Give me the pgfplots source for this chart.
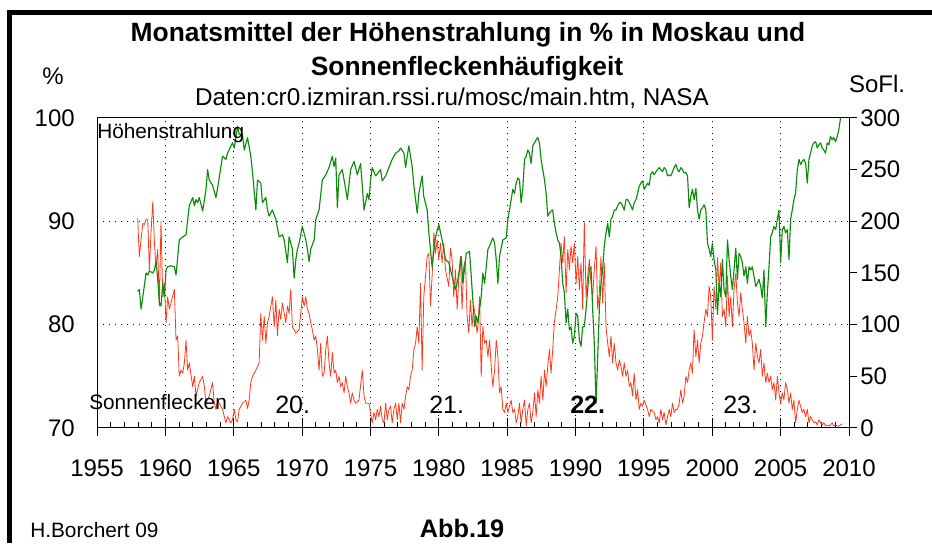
\documentclass[border=0pt]{standalone}
\usepackage{pgfplots}
\pgfplotsset{compat=1.18}
\usepackage{pgfplotstable}
\usepackage{fontspec}
\setmainfont{Liberation Sans}
\definecolor{cgreen}{RGB}{10,140,10}
\definecolor{cred}{RGB}{255,55,25}
\def\px{0.75pt}

\pgfplotstableread{
year pct
1957.98 83.2
1958.10 83.4
1958.22 81.5
1958.35 82.7
1958.59 85.0
1958.71 84.8
1958.83 85.2
1959.08 85.0
1959.20 85.3
1959.32 86.1
1959.44 84.4
1959.56 82.1
1959.68 81.8
1959.81 84.0
1959.93 82.7
1960.05 85.3
1960.17 85.6
1960.41 85.7
1960.66 85.6
1960.78 84.8
1961.02 88.2
1961.27 88.5
1961.51 88.7
1961.75 91.5
1962.00 92.3
1962.12 91.5
1962.24 92.1
1962.36 91.8
1962.48 92.3
1962.73 91.0
1962.97 93.1
1963.09 95.0
1963.21 94.0
1963.45 93.5
1963.70 92.3
1963.82 93.2
1964.18 96.3
1964.43 96.0
1964.55 96.6
1964.91 97.6
1965.04 97.1
1965.28 99.2
1965.40 98.4
1965.64 98.4
1965.77 96.9
1966.01 98.1
1966.25 96.3
1966.37 94.8
1966.62 91.1
1966.74 94.0
1966.98 93.7
1967.10 91.8
1967.35 92.3
1967.47 91.1
1967.59 90.5
1967.83 91.1
1968.08 90.2
1968.32 88.5
1968.56 88.7
1968.69 88.2
1968.93 86.0
1969.05 88.5
1969.29 87.3
1969.42 84.5
1969.54 86.3
1969.66 87.3
1969.78 87.9
1969.90 88.7
1970.02 89.5
1970.27 88.2
1970.39 87.3
1970.51 86.1
1970.63 87.3
1970.88 88.2
1971.00 90.2
1971.24 91.1
1971.48 94.0
1971.73 94.5
1971.97 95.2
1972.21 96.3
1972.34 95.3
1972.46 96.1
1972.58 91.3
1972.70 94.5
1972.94 95.0
1973.19 93.1
1973.31 92.1
1973.55 95.0
1973.80 95.8
1974.04 94.5
1974.28 95.6
1974.53 91.1
1974.77 92.7
1974.89 92.1
1975.01 94.0
1975.13 95.2
1975.38 94.4
1975.74 95.0
1975.86 93.9
1976.11 94.4
1976.35 95.2
1976.59 96.0
1976.84 96.6
1977.08 96.8
1977.20 97.1
1977.45 96.6
1977.57 95.2
1977.69 96.3
1977.81 97.3
1978.05 95.3
1978.18 93.4
1978.42 90.8
1978.54 92.7
1978.78 94.4
1978.90 92.4
1979.15 91.1
1979.27 88.9
1979.51 85.6
1979.76 88.5
1980.00 89.7
1980.24 88.2
1980.49 86.3
1980.73 86.0
1980.97 84.7
1981.22 83.4
1981.40 84.4
1981.64 86.6
1981.76 84.0
1982.01 86.9
1982.25 87.1
1982.37 84.7
1982.62 79.8
1982.74 80.8
1982.86 80.2
1982.98 81.5
1983.10 82.7
1983.22 85.0
1983.35 84.0
1983.47 85.6
1983.59 87.3
1983.71 87.6
1983.95 88.4
1984.08 87.9
1984.20 86.3
1984.32 84.0
1984.44 86.6
1984.68 88.2
1984.93 88.4
1985.05 90.2
1985.17 91.1
1985.29 92.1
1985.41 93.1
1985.54 92.7
1985.66 93.7
1985.78 94.2
1985.90 94.0
1986.02 91.8
1986.14 93.1
1986.27 96.0
1986.39 96.3
1986.51 96.9
1986.63 96.6
1986.75 95.6
1986.87 97.3
1987.00 97.6
1987.12 97.9
1987.24 98.1
1987.36 97.6
1987.48 96.0
1987.73 94.0
1987.85 92.7
1987.97 90.5
1988.09 90.8
1988.21 91.0
1988.33 91.1
1988.45 89.8
1988.58 88.9
1988.70 88.2
1988.82 87.9
1988.94 86.6
1989.06 84.0
1989.18 83.1
1989.31 80.2
1989.43 81.5
1989.55 79.5
1989.67 79.8
1989.79 78.2
1989.91 78.9
1990.04 81.1
1990.16 80.8
1990.28 78.5
1990.40 77.9
1990.52 79.8
1990.64 79.8
1990.77 81.5
1990.89 83.4
1991.01 85.3
1991.13 85.6
1991.25 81.5
1991.37 78.2
1991.50 72.4
1991.62 76.9
1991.74 81.5
1991.86 84.0
1991.98 85.3
1992.10 87.6
1992.23 88.9
1992.35 89.8
1992.47 88.5
1992.59 90.2
1992.71 90.5
1992.83 91.1
1992.96 91.1
1993.08 91.5
1993.20 91.8
1993.32 91.8
1993.44 91.5
1993.56 91.1
1993.69 92.1
1993.81 92.1
1993.93 91.8
1994.05 91.5
1994.17 91.1
1994.29 91.8
1994.42 92.1
1994.54 92.7
1994.66 93.4
1994.78 93.7
1994.90 93.9
1995.02 93.1
1995.15 93.4
1995.27 93.7
1995.39 93.5
1995.51 94.6
1995.63 94.8
1995.75 94.5
1995.88 94.8
1996.00 95.0
1996.12 95.2
1996.24 95.0
1996.36 94.8
1996.48 95.2
1996.61 95.0
1996.73 94.4
1996.85 94.5
1996.97 94.4
1997.09 94.8
1997.21 95.2
1997.34 95.5
1997.46 95.0
1997.58 94.8
1997.70 95.2
1997.82 95.0
1997.94 94.7
1998.07 94.7
1998.19 94.4
1998.31 91.3
1998.43 92.4
1998.55 93.1
1998.67 92.1
1998.80 93.2
1998.92 91.1
1999.04 90.2
1999.16 91.1
1999.28 91.3
1999.40 91.6
1999.53 91.1
1999.65 87.9
1999.77 87.3
1999.89 86.6
2000.01 87.9
2000.13 86.3
2000.26 85.3
2000.38 81.0
2000.50 84.0
2000.62 82.7
2000.74 86.3
2000.86 83.4
2000.99 82.7
2001.11 88.2
2001.23 86.3
2001.35 84.7
2001.47 83.4
2001.59 85.3
2001.72 87.4
2001.84 84.4
2001.96 86.9
2002.08 86.6
2002.20 86.0
2002.32 84.7
2002.45 85.6
2002.57 84.0
2002.69 85.6
2002.81 85.3
2002.93 85.6
2003.05 84.7
2003.18 83.7
2003.30 84.0
2003.42 84.4
2003.54 83.7
2003.66 82.6
2003.78 85.3
2003.91 79.8
2004.03 83.1
2004.15 85.6
2004.27 88.5
2004.39 88.9
2004.51 89.5
2004.64 89.2
2004.76 90.2
2004.88 91.1
2005.00 86.0
2005.12 89.2
2005.24 89.5
2005.36 88.9
2005.49 89.2
2005.61 86.3
2005.73 90.2
2005.85 91.1
2005.97 92.1
2006.09 92.7
2006.22 95.0
2006.34 96.0
2006.46 95.5
2006.58 95.8
2006.70 96.0
2006.83 95.6
2006.95 93.7
2007.07 96.0
2007.19 96.6
2007.31 97.3
2007.43 97.6
2007.56 97.7
2007.68 97.1
2007.80 97.4
2007.92 97.6
2008.04 97.1
2008.16 96.9
2008.28 96.6
2008.41 97.6
2008.53 97.4
2008.65 98.2
2008.77 97.9
2008.89 98.1
2009.01 97.7
2009.14 98.2
2009.26 98.9
2009.38 100.0
}\greendata

\pgfplotstableread{
year sofl
1957.98 203
1958.05 179
1958.10 166
1958.22 182
1958.35 198
1958.47 197
1958.59 202
1958.71 202
1958.83 153
1958.95 189
1959.08 219
1959.20 179
1959.32 156
1959.44 173
1959.56 118
1959.68 200
1959.81 127
1959.93 140
1960.05 102
1960.17 127
1960.29 115
1960.41 121
1960.66 134
1960.78 85
1960.90 89
1961.02 50
1961.14 56
1961.27 53
1961.39 63
1961.51 85
1961.63 56
1961.75 63
1962.00 40
1962.12 50
1962.24 31
1962.48 44
1962.73 50
1962.85 40
1962.97 24
1963.21 31
1963.45 44
1963.58 24
1963.70 18
1963.82 27
1963.94 24
1964.18 18
1964.43 5
1964.55 11
1964.79 5
1964.91 8
1965.04 18
1965.16 8
1965.28 6
1965.40 18
1965.64 24
1965.89 27
1966.01 19
1966.13 27
1966.25 44
1966.37 50
1966.62 56
1966.86 63
1966.98 111
1967.10 85
1967.23 108
1967.35 82
1967.47 102
1967.59 108
1967.83 127
1967.96 98
1968.08 124
1968.20 89
1968.32 115
1968.44 105
1968.56 121
1968.81 102
1968.93 118
1969.05 111
1969.17 134
1969.29 98
1969.54 92
1969.78 95
1970.02 127
1970.15 118
1970.27 127
1970.39 115
1970.51 111
1970.63 102
1970.75 95
1970.88 85
1971.00 89
1971.12 76
1971.24 56
1971.36 82
1971.48 50
1971.61 53
1971.73 76
1971.85 89
1971.97 63
1972.09 50
1972.21 73
1972.34 53
1972.46 56
1972.58 44
1972.70 50
1972.82 40
1972.94 44
1973.07 34
1973.19 50
1973.31 40
1973.43 34
1973.55 24
1973.67 34
1973.80 27
1973.92 24
1974.16 27
1974.40 56
1974.53 31
1974.65 24
1974.89 24
1975.13 5
1975.26 15
1975.38 8
1975.50 18
1975.62 11
1975.74 21
1975.86 8
1975.99 5
1976.11 24
1976.23 8
1976.35 18
1976.47 21
1976.59 5
1976.72 18
1976.84 24
1976.96 8
1977.08 24
1977.20 5
1977.32 24
1977.45 18
1977.57 31
1977.69 40
1977.81 37
1977.93 50
1978.05 56
1978.18 76
1978.30 82
1978.42 98
1978.54 82
1978.66 140
1978.78 56
1978.90 127
1979.03 147
1979.15 166
1979.27 169
1979.39 118
1979.51 147
1979.64 189
1979.76 169
1979.88 182
1980.00 163
1980.12 179
1980.24 160
1980.36 179
1980.49 153
1980.73 137
1980.85 174
1980.97 163
1981.09 127
1981.22 153
1981.34 115
1981.46 144
1981.58 166
1981.70 115
1981.82 156
1981.95 163
1982.07 108
1982.19 92
1982.31 124
1982.43 98
1982.55 118
1982.68 108
1982.80 92
1982.86 98
1982.98 127
1983.10 50
1983.22 98
1983.35 82
1983.47 85
1983.59 69
1983.71 85
1983.83 60
1983.95 40
1984.08 56
1984.20 85
1984.32 69
1984.44 34
1984.56 40
1984.68 18
1984.81 15
1984.93 24
1985.05 15
1985.17 21
1985.29 27
1985.41 15
1985.54 18
1985.66 5
1985.78 11
1985.90 24
1986.02 5
1986.14 18
1986.27 27
1986.39 2
1986.51 18
1986.63 24
1986.75 5
1986.87 15
1987.00 34
1987.12 11
1987.24 37
1987.36 24
1987.48 50
1987.61 27
1987.73 56
1987.85 40
1987.97 60
1988.09 76
1988.21 53
1988.33 76
1988.45 102
1988.58 115
1988.70 127
1988.82 153
1988.94 179
1989.06 160
1989.18 185
1989.31 131
1989.43 173
1989.55 153
1989.67 176
1989.79 160
1989.91 179
1990.04 140
1990.16 166
1990.28 134
1990.40 160
1990.52 115
1990.64 200
1990.77 127
1990.89 147
1991.01 163
1991.13 140
1991.25 127
1991.37 153
1991.50 176
1991.62 115
1991.74 131
1991.86 166
1991.98 121
1992.10 160
1992.23 98
1992.35 82
1992.47 69
1992.59 89
1992.71 63
1992.83 82
1992.96 63
1993.08 56
1993.20 66
1993.32 60
1993.44 50
1993.56 63
1993.69 50
1993.81 56
1993.93 40
1994.05 44
1994.17 31
1994.29 53
1994.42 27
1994.54 37
1994.66 18
1994.78 24
1994.90 21
1995.02 27
1995.27 18
1995.39 11
1995.51 18
1995.75 15
1995.88 8
1996.00 11
1996.12 5
1996.24 18
1996.36 8
1996.48 15
1996.61 3
1996.73 11
1996.85 18
1996.97 11
1997.09 24
1997.21 15
1997.34 18
1997.46 18
1997.58 24
1997.70 37
1997.82 24
1997.94 31
1998.07 50
1998.19 44
1998.31 56
1998.43 63
1998.55 53
1998.67 95
1998.80 69
1998.92 85
1999.04 63
1999.16 82
1999.28 89
1999.40 102
1999.53 115
1999.65 108
1999.77 137
1999.89 127
2000.01 85
2000.13 137
2000.26 115
2000.38 165
2000.50 134
2000.62 160
2000.74 108
2000.86 115
2000.99 98
2001.11 147
2001.23 108
2001.35 127
2001.47 98
2001.59 134
2001.72 150
2001.84 121
2001.96 108
2002.08 131
2002.20 115
2002.32 102
2002.45 82
2002.57 108
2002.69 89
2002.81 95
2002.93 82
2003.05 56
2003.18 82
2003.30 69
2003.42 63
2003.54 76
2003.66 50
2003.78 63
2003.91 44
2004.03 53
2004.15 44
2004.27 50
2004.39 37
2004.51 44
2004.64 27
2004.76 50
2004.88 34
2005.00 24
2005.12 34
2005.24 27
2005.36 44
2005.49 37
2005.61 24
2005.73 34
2005.85 18
2005.97 27
2006.09 5
2006.22 18
2006.34 27
2006.46 21
2006.58 15
2006.70 18
2006.83 11
2006.95 18
2007.07 5
2007.19 11
2007.31 8
2007.43 5
2007.56 6
2007.68 3
2007.80 8
2007.92 5
2008.04 3
2008.16 5
2008.28 2
2008.41 3
2008.53 2
2008.65 3
2008.77 5
2008.89 2
2009.01 3
2009.14 2
2009.26 2
2009.38 3
2009.50 4
}\reddata

\begin{document}
\begin{tikzpicture}[x=0.75pt,y=0.75pt]
\useasboundingbox (0,0) rectangle (932,543);
% outer frame
\draw[line width=3.75pt] (9.5,0) -- (9.5,530.5) -- (932,530.5);

% primary axis: grid, left labels, x axis
\begin{axis}[
  at={(97*\px,115*\px)}, anchor=south west,
  width=752*\px, height=310*\px, scale only axis,
  xmin=1955, xmax=2010, ymin=70, ymax=100,
  axis x line*=bottom, axis y line*=left,
  axis line style={black, line width=0.75pt},
  xtick={1955,1960,...,2010},
  minor x tick num=4,
  ytick={70,80,90,100},
  grid=major,
  major grid style={black, line width=0.75pt, dash pattern=on 0.75pt off 3.75pt},
  tick align=inside,
  major tick length=18*\px,
  minor tick length=6*\px,
  every major x tick/.append style={yshift=-8*\px, black, line width=0.75pt},
  every minor x tick/.append style={black, line width=0.75pt},
  every major y tick/.append style={draw=none},
  xticklabel style={font=\fontsize{18pt}{18pt}\selectfont, anchor=base, inner sep=0pt, yshift=-49*\px},
  yticklabel style={font=\fontsize{18pt}{18pt}\selectfont, anchor=east, inner sep=0pt, xshift=-22*\px},
  /pgf/number format/.cd, 1000 sep={}, assume math mode=true,
]
\end{axis}

% secondary axis: sunspots
\begin{axis}[
  at={(97*\px,115*\px)}, anchor=south west,
  width=752*\px, height=310*\px, scale only axis,
  xmin=1955, xmax=2010, ymin=0, ymax=300,
  axis x line*=top, axis y line*=right,
  axis line style={black, line width=0.75pt},
  xtick=\empty,
  ytick={0,50,...,300},
  tick align=outside,
  major tick length=8*\px,
  every major y tick/.append style={black, line width=0.75pt},
  yticklabel style={font=\fontsize{18pt}{18pt}\selectfont, anchor=west, inner sep=0pt, xshift=3*\px},
  /pgf/number format/.cd, assume math mode=true,
]
\addplot[cred, line width=0.6pt, line join=round] table[x=year, y=sofl]{\reddata};
\end{axis}

% cosmic radiation (on top)
\begin{axis}[
  at={(97*\px,115*\px)}, anchor=south west,
  width=752*\px, height=310*\px, scale only axis,
  xmin=1955, xmax=2010, ymin=70, ymax=100,
  hide axis,
]
\addplot[cgreen, line width=0.85pt, line join=round] table[x=year, y=pct]{\greendata};
\end{axis}

% texts
\node[anchor=base, font=\fontsize{19.8pt}{20pt}\selectfont\bfseries] at (468,501) {Monatsmittel der Höhenstrahlung in \% in Moskau und};
\node[anchor=base, font=\fontsize{19.8pt}{20pt}\selectfont\bfseries] at (467,467) {Sonnenfleckenhäufigkeit};
\node[anchor=base, font=\fontsize{18.2pt}{19pt}\selectfont] at (452,437) {Daten:cr0.izmiran.rssi.ru/mosc/main.htm, NASA};
\node[anchor=base, font=\fontsize{18pt}{18pt}\selectfont] at (53,458) {\%};
\node[anchor=base, font=\fontsize{18pt}{18pt}\selectfont] at (877,450) {SoFl.};
\node[anchor=base west, inner sep=0pt, font=\fontsize{15.6pt}{16pt}\selectfont] at (97,404) {Höhenstrahlung};
\node[anchor=base west, inner sep=0pt, font=\fontsize{15.6pt}{16pt}\selectfont] at (89,133) {Sonnenflecken};
\node[anchor=base west, inner sep=0pt, font=\fontsize{18.8pt}{19pt}\selectfont] at (275,129) {20.};
\node[anchor=base west, inner sep=0pt, font=\fontsize{18.8pt}{19pt}\selectfont] at (429,129) {21.};
\node[anchor=base west, inner sep=0pt, font=\fontsize{18.8pt}{19pt}\selectfont\bfseries] at (570,129) {22.};
\node[anchor=base west, inner sep=0pt, font=\fontsize{18.8pt}{19pt}\selectfont] at (723,129) {23.};
\node[anchor=base west, inner sep=0pt, font=\fontsize{15.6pt}{16pt}\selectfont] at (30,6) {H.Borchert 09};
\node[anchor=base, inner sep=0pt, font=\fontsize{19pt}{19pt}\selectfont\bfseries] at (462,6) {Abb.19};
\end{tikzpicture}
\end{document}
